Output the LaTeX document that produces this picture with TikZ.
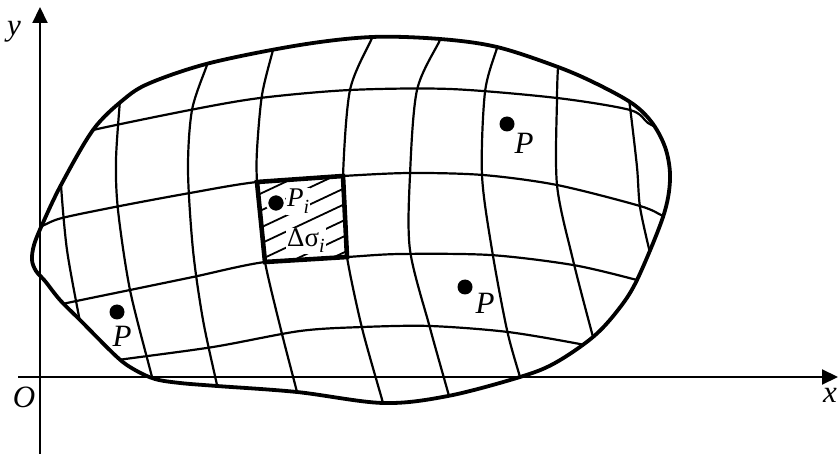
\documentclass[tikz,border=0pt]{standalone}
\usepackage{fontspec}
\setmainfont{Liberation Serif}
\usetikzlibrary{arrows.meta}
\begin{document}
\begin{tikzpicture}[x=1pt,y=-1pt,
  bnd/.style={line width=3.8pt, line join=round},
  grd/.style={line width=2.2pt},
  axisln/.style={line width=2.1pt, -{Triangle[length=16pt,width=15pt]}},
  boxedge/.style={line width=4.6pt, line join=miter},
  hatchln/.style={line width=1.8pt},
  dot/.style={circle, fill=black, inner sep=0pt, minimum size=15pt},
  lbl/.style={font=\fontsize{31}{33}\selectfont\itshape, inner sep=0pt},
  boxlbl/.style={font=\fontsize{27}{29}\selectfont, inner sep=1pt, fill=white},
  ]
\useasboundingbox (0,0) rectangle (838,454);
% axes
\draw[axisln] (40,454) -- (40,7) coordinate (ytip);
\draw[axisln] (18,377) -- (838,377) coordinate (xtip);
\node[lbl, anchor=base] (ylab) at (14,36) {y};
\node[lbl, anchor=base] (olab) at (24,407) {O};
\node[lbl, anchor=base west] (xlab) at (823,402) {x};
% grid clipped to region
\begin{scope}
\clip plot[smooth cycle, tension=0.55] coordinates {
 (42,225) (34,245) (32,260) (36,271) (45,281) (60,300) (80,320) (117,357)
 (135,370) (155,379) (180,383) (217,386) (297,392) (383,403) (448,396) (520,377)
 (555,363) (593,337) (618,310) (637,280) (663,217) (670,180) (666,150) (653,124) (633,104)
 (597,84) (558,67) (497,47) (440,39) (372,37) (300,45) (210,63) (150,83) (123,100) (93,130)
 (61,185)};
\draw[grd] plot[smooth] coordinates {(78,136) (93,130) (190,110) (260,98) (350,90) (450,89) (557,98) (630,110) (648,123) (662,130)};
\draw[grd] plot[smooth] coordinates {(28,231) (42,226) (62,218) (120,206) (190,193) (257,182) (343,176) (410,173) (483,175) (557,185) (640,206) (663,216) (678,222)};
\draw[grd] plot[smooth] coordinates {(52,307) (67,303) (130,290) (193,277) (265,262) (347,257) (400,254) (490,255) (573,265) (637,280) (652,285)};
\draw[grd] plot[smooth] coordinates {(104,363) (118,360) (213,347) (300,331) (363,327) (430,326) (508,332) (585,345) (600,350)};
\draw[grd] plot[smooth] coordinates {(62,175) (61,185) (67,250) (80,322) (82,332)};
\draw[grd] plot[smooth] coordinates {(121,90) (120,100) (116,160) (118,210) (130,290) (152,377) (154,387)};
\draw[grd] plot[smooth] coordinates {(210,55) (207,65) (192,110) (188,170) (193,250) (203,320) (217,385) (219,395)};
\draw[grd] plot[smooth] coordinates {(276,40) (273,50) (262,95) (257,150) (257,182) (261,220) (265,262) (281,330) (297,392) (299,402)};
\draw[grd] plot[smooth] coordinates {(375,28) (372,38) (350,90) (343,176) (345,220) (347,257) (362,328) (383,403) (385,413)};
\draw[grd] plot[smooth] coordinates {(443,30) (440,40) (417,90) (410,175) (410,250) (430,328) (449,396) (451,406)};
\draw[grd] plot[smooth] coordinates {(500,38) (497,48) (485,92) (482,175) (492,250) (507,330) (520,377) (523,387)};
\draw[grd] plot[smooth] coordinates {(559,57) (558,67) (557,98) (557,185) (573,260) (593,337) (596,347)};
\draw[grd] plot[smooth] coordinates {(628,97) (630,107) (637,167) (640,207) (650,253) (653,263)};
\end{scope}
% hatching in the cell
\coordinate (c1) at (257,182);
\coordinate (c2) at (343,176);
\coordinate (c3) at (347,257);
\coordinate (c4) at (265,262);
\begin{scope}
\clip (c1) -- (c2) -- (c3) -- (c4) -- cycle;
\foreach \c in {177,193,210,227,243,259,275,291}
  \draw[hatchln] (250,\c+5.6) -- ++(110,-51.7);
\end{scope}
\node[dot, draw=white, line width=2.5pt, minimum size=18pt] (pi) at (276,203) {};
\node[boxlbl, anchor=base west] (lpi) at (286,207) {\itshape P\raisebox{-7pt}{\fontsize{20}{20}\selectfont i}};
\node[boxlbl, anchor=base west] (lds) at (286,247) {Δσ\raisebox{-6pt}{\fontsize{20}{20}\selectfont\itshape i}};
\draw[boxedge] (c1) -- (c2) -- (c3) -- (c4) -- cycle;
% outer boundary
\draw[bnd] plot[smooth cycle, tension=0.55] coordinates {
 (42,225) (34,245) (32,260) (36,271) (45,281) (60,300) (80,320) (117,357)
 (135,370) (155,379) (180,383) (217,386) (297,392) (383,403) (448,396) (520,377)
 (555,363) (593,337) (618,310) (637,280) (663,217) (670,180) (666,150) (653,124) (633,104)
 (597,84) (558,67) (497,47) (440,39) (372,37) (300,45) (210,63) (150,83) (123,100) (93,130)
 (61,185)};
% points
\node[dot] (p1) at (507,124) {};
\node[lbl, anchor=base] (lp1) at (524,154) {P};
\node[dot] (p2) at (465,287) {};
\node[lbl, anchor=base] (lp2) at (485,314) {P};
\node[dot] (p3) at (117,312) {};
\node[lbl, anchor=base] (lp3) at (122,346) {P};
\end{tikzpicture}
\end{document}
